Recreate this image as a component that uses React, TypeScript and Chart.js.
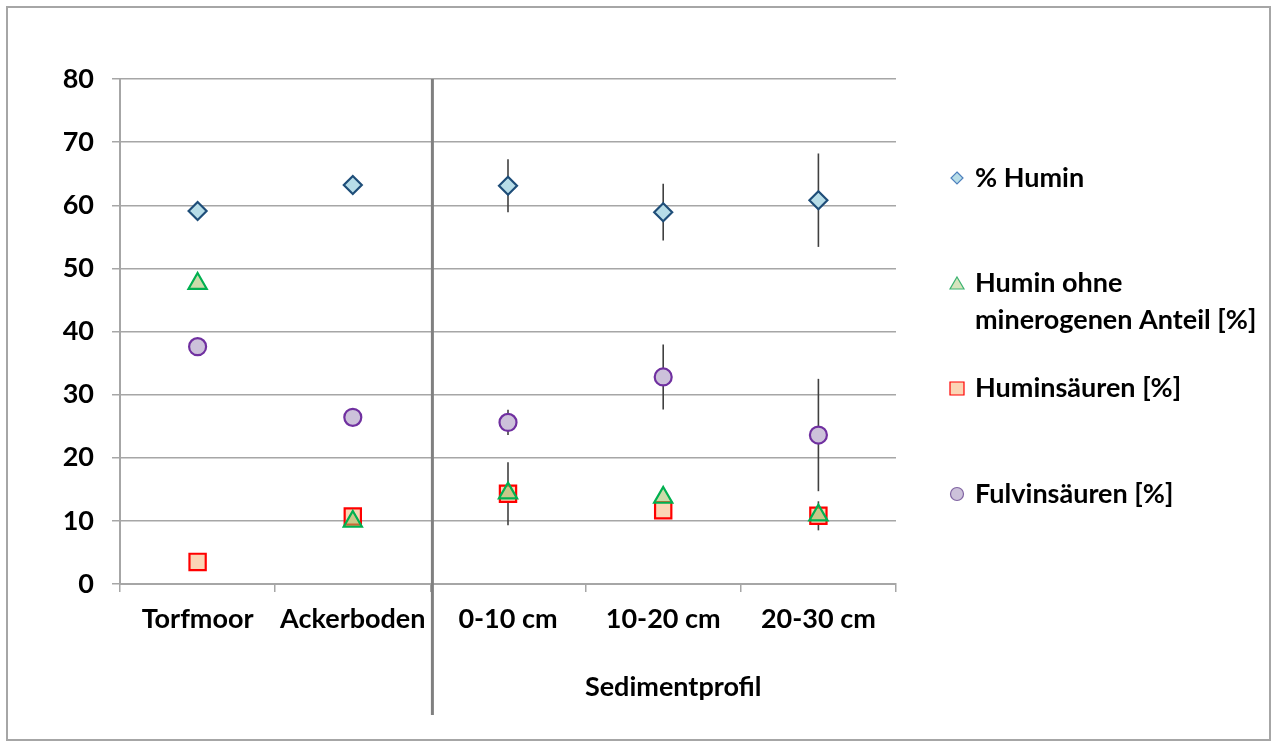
import React, { useEffect, useRef } from "react";
import { Chart, registerables } from "chart.js";

Chart.register(...registerables);

const categories = ["Torfmoor", "Ackerboden", "0-10 cm", "10-20 cm", "20-30 cm"];
const huminPct = [59.1, 63.2, 63.1, 58.9, 60.8];
const huminPctErr = [null, null, 4.2, 4.5, 7.4];
const huminOhne = [47.6, 9.9, 14.4, 13.7, 10.9];
const huminsaeuren = [3.5, 10.7, 14.3, 11.7, 10.8];
const huminsaeurenErr = [null, null, 5.0, 0.85, 2.3];
const fulvinsaeuren = [37.6, 26.4, 25.6, 32.8, 23.6];
const fulvinsaeurenErr = [null, null, 2.0, 5.15, 8.9];
const yTicks = [0, 10, 20, 30, 40, 50, 60, 70, 80];
const xGroupTitle = "Sedimentprofil";

const FONT = "Lato, 'Open Sans', sans-serif";
const FS = 27;

const legendItems = [
  { lines: ["% Humin"], style: "rectRot", fill: "#b7dde8", stroke: "#4f81bd" },
  { lines: ["Humin ohne", "minerogenen Anteil [%]"], style: "triangle", fill: "#d7e4bd", stroke: "#3cb371" },
  { lines: ["Huminsäuren [%]"], style: "rect", fill: "#fbd5b5", stroke: "#ff0000" },
  { lines: ["Fulvinsäuren [%]"], style: "circle", fill: "#ccc1da", stroke: "#8064a2" },
];

const errorBarPlugin = {
  id: "errorBars",
  beforeDatasetsDraw(chart: any) {
    const ctx = chart.ctx;
    const y = chart.scales.y;
    ctx.save();
    ctx.strokeStyle = "#404040";
    ctx.lineWidth = 1.6;
    chart.data.datasets.forEach((ds: any, di: number) => {
      if (!ds.errors) return;
      const meta = chart.getDatasetMeta(di);
      meta.data.forEach((pt: any, i: number) => {
        const e = ds.errors[i];
        if (e == null) return;
        const v = ds.data[i];
        ctx.beginPath();
        ctx.moveTo(pt.x, y.getPixelForValue(v + e));
        ctx.lineTo(pt.x, y.getPixelForValue(v - e));
        ctx.stroke();
      });
    });
    ctx.restore();
  },
};

const decorPlugin = {
  id: "decor",
  afterDraw(chart: any) {
    const ctx = chart.ctx;
    const x = chart.scales.x;
    const area = chart.chartArea;
    ctx.save();
    const sx = (x.getPixelForValue(1) + x.getPixelForValue(2)) / 2 + 2;
    ctx.strokeStyle = "#808080";
    ctx.lineWidth = 3;
    ctx.beginPath();
    ctx.moveTo(sx, area.top);
    ctx.lineTo(sx, 707);
    ctx.stroke();
    ctx.fillStyle = "#000";
    ctx.font = `bold ${FS}px ${FONT}`;
    ctx.textAlign = "center";
    ctx.textBaseline = "middle";
    const cx = (sx + area.right) / 2 + 9;
    ctx.fillText(xGroupTitle, cx, 679);
    const ys = [170, 275, 380, 486];
    ctx.textAlign = "left";
    legendItems.forEach((it, i) => {
      const yy = ys[i];
      const px = 949;
      ctx.lineWidth = 1.2;
      ctx.fillStyle = it.fill;
      ctx.strokeStyle = it.stroke;
      ctx.beginPath();
      if (it.style === "rectRot") {
        ctx.moveTo(px, yy - 6);
        ctx.lineTo(px + 6, yy);
        ctx.lineTo(px, yy + 6);
        ctx.lineTo(px - 6, yy);
        ctx.closePath();
      } else if (it.style === "triangle") {
        ctx.moveTo(px, yy - 6);
        ctx.lineTo(px + 7, yy + 6);
        ctx.lineTo(px - 7, yy + 6);
        ctx.closePath();
      } else if (it.style === "rect") {
        ctx.rect(px - 7, yy - 6, 14, 13);
      } else {
        ctx.arc(px, yy, 6.5, 0, Math.PI * 2);
      }
      ctx.fill();
      ctx.stroke();
      ctx.fillStyle = "#000";
      ctx.font = `bold ${FS}px ${FONT}`;
      it.lines.forEach((ln, j) => {
        ctx.fillText(ln, 967, yy + j * 37);
      });
    });
    ctx.restore();
  },
};

export default function App() {
  const ref = useRef<HTMLCanvasElement>(null);
  useEffect(() => {
    if (!ref.current) return;
    const mk = (label: string, data: number[], style: string, r: number, fill: string, stroke: string, errors?: any[]) => ({
      label,
      data,
      errors,
      showLine: false,
      pointStyle: style,
      pointRadius: r,
      pointHoverRadius: r,
      pointBackgroundColor: fill,
      pointBorderColor: stroke,
      pointBorderWidth: 2.2,
      backgroundColor: fill,
      borderColor: stroke,
    });
    const chart = new Chart(ref.current, {
      type: "line",
      data: {
        labels: categories,
        datasets: [
          mk("Humin ohne minerogenen Anteil [%]", huminOhne, "triangle", 10.5, "rgba(160,190,100,0.55)", "#00b050"),
          mk("Huminsäuren [%]", huminsaeuren, "rect", 11.5, "#fbd5b5", "#ff0000", huminsaeurenErr),
          mk("Fulvinsäuren [%]", fulvinsaeuren, "circle", 8.5, "#ccc1da", "#7030a0", fulvinsaeurenErr),
          mk("% Humin", huminPct, "rectRot", 9, "#b7dde8", "#1f4e79", huminPctErr),
        ] as any,
      },
      options: {
        animation: false,
        responsive: true,
        maintainAspectRatio: false,
        layout: { padding: { top: 71, right: 373, bottom: 0, left: 0 } },
        plugins: {
          legend: { display: false },
          tooltip: { enabled: false },
        },
        scales: {
          x: {
            type: "category",
            offset: true,
            grid: {
              offset: true,
              drawOnChartArea: false,
              drawTicks: true,
              tickLength: 8,
              color: "#a6a6a6",
              lineWidth: 1.5,
            },
            border: { color: "#a6a6a6", width: 2 },
            ticks: {
              color: "#000",
              font: { family: FONT, size: FS, weight: "bold" },
              padding: 11,
              maxRotation: 0,
              autoSkip: false,
            },
            afterFit(scale: any) {
              scale.height = 155;
            },
          },
          y: {
            min: 0,
            max: 80,
            afterBuildTicks(scale: any) {
              scale.ticks = yTicks.map((v) => ({ value: v }));
            },
            grid: {
              color: "#a6a6a6",
              lineWidth: 1.5,
              drawTicks: true,
              tickLength: 8,
            },
            border: { color: "#a6a6a6", width: 2 },
            ticks: {
              color: "#000",
              font: { family: FONT, size: FS, weight: "bold" },
              padding: 18,
            },
            afterFit(scale: any) {
              scale.width = 112;
            },
          },
        },
      },
      plugins: [errorBarPlugin, decorPlugin],
    } as any);
    return () => chart.destroy();
  }, []);
  return (
    <div
      style={{
        position: "absolute",
        left: 6,
        top: 6,
        width: 1265,
        height: 735,
        border: "2px solid #a6a6a6",
        boxSizing: "border-box",
        background: "#fff",
      }}
    >
      <div style={{ width: 1261, height: 731, position: "relative" }}>
        <canvas ref={ref} />
      </div>
    </div>
  );
}
